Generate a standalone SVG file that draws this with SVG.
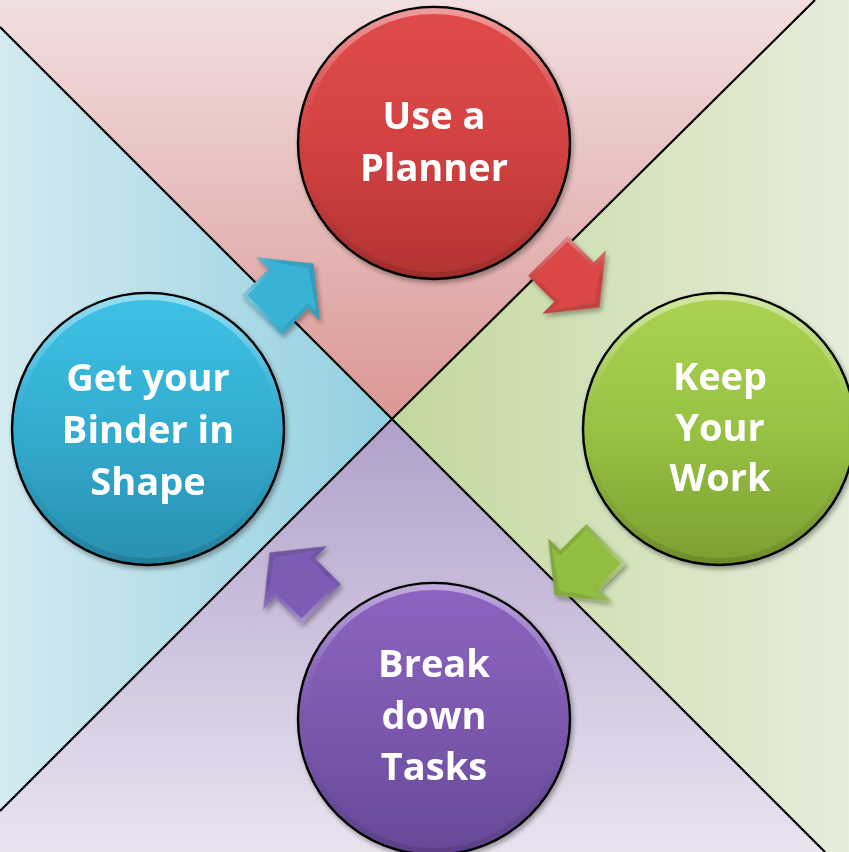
<svg xmlns="http://www.w3.org/2000/svg" width="849" height="852" viewBox="0 0 849 852">
  <defs>
    <style>
      .label { font-family: "Open Sans", "Lato", "Liberation Sans", sans-serif; font-weight: 700; font-size: 38px; fill: #ffffff; text-anchor: middle; }
      .divider { stroke: #000000; stroke-width: 2.2; fill: none; }
      .ring { stroke: #000000; stroke-width: 2.4; }
      .rim { fill: none; stroke: url(#rimGlow); stroke-width: 6; }
    </style>

    <!-- background quadrants -->
    <linearGradient id="bgTop" gradientUnits="userSpaceOnUse" x1="0" y1="0" x2="0" y2="419">
      <stop offset="0" stop-color="#f2dfdf"/>
      <stop offset="1" stop-color="#da9795"/>
    </linearGradient>
    <linearGradient id="bgLeft" gradientUnits="userSpaceOnUse" x1="0" y1="0" x2="392" y2="0">
      <stop offset="0" stop-color="#d3eaf0"/>
      <stop offset="1" stop-color="#92cfe0"/>
    </linearGradient>
    <linearGradient id="bgRight" gradientUnits="userSpaceOnUse" x1="849" y1="0" x2="392" y2="0">
      <stop offset="0" stop-color="#e6eddb"/>
      <stop offset="1" stop-color="#c3d79c"/>
    </linearGradient>
    <linearGradient id="bgBottom" gradientUnits="userSpaceOnUse" x1="0" y1="852" x2="0" y2="419">
      <stop offset="0" stop-color="#e9e4f0"/>
      <stop offset="1" stop-color="#b1a0ca"/>
    </linearGradient>

    <!-- circle fills -->
    <linearGradient id="fillRed" x1="0" y1="0" x2="0" y2="1">
      <stop offset="0" stop-color="#e04b49"/>
      <stop offset="0.5" stop-color="#d34242"/>
      <stop offset="1" stop-color="#b23331"/>
    </linearGradient>
    <linearGradient id="fillGreen" x1="0" y1="0" x2="0" y2="1">
      <stop offset="0" stop-color="#abd352"/>
      <stop offset="0.5" stop-color="#98c243"/>
      <stop offset="1" stop-color="#7b9f31"/>
    </linearGradient>
    <linearGradient id="fillBlue" x1="0" y1="0" x2="0" y2="1">
      <stop offset="0" stop-color="#3ec2e6"/>
      <stop offset="0.5" stop-color="#33acd0"/>
      <stop offset="1" stop-color="#288fae"/>
    </linearGradient>
    <linearGradient id="fillPurple" x1="0" y1="0" x2="0" y2="1">
      <stop offset="0" stop-color="#8d64c1"/>
      <stop offset="0.5" stop-color="#7c58ae"/>
      <stop offset="1" stop-color="#664998"/>
    </linearGradient>
    <linearGradient id="rimGlow" x1="0" y1="0" x2="0" y2="1">
      <stop offset="0" stop-color="#ffffff" stop-opacity="0.45"/>
      <stop offset="0.3" stop-color="#ffffff" stop-opacity="0.08"/>
      <stop offset="0.6" stop-color="#000000" stop-opacity="0"/>
      <stop offset="1" stop-color="#000000" stop-opacity="0.12"/>
    </linearGradient>

    <!-- arrow bevel shades -->
    <linearGradient id="bevelShade" x1="0" y1="0" x2="1" y2="1">
      <stop offset="0" stop-color="#ffffff" stop-opacity="0.5"/>
      <stop offset="0.5" stop-color="#ffffff" stop-opacity="0"/>
      <stop offset="1" stop-color="#000000" stop-opacity="0.3"/>
    </linearGradient>

    <filter id="softShadow" x="-20%" y="-20%" width="150%" height="150%">
      <feGaussianBlur in="SourceAlpha" stdDeviation="2.5"/>
      <feOffset dx="2" dy="3" result="blur"/>
      <feComponentTransfer><feFuncA type="linear" slope="0.35"/></feComponentTransfer>
      <feMerge><feMergeNode/><feMergeNode in="SourceGraphic"/></feMerge>
    </filter>

    <!-- block arrow pointing along +x, centred on the origin -->
    <path id="arrowOuter" d="M-37,-28 L0,-28 L0,-45 L36,0 L0,45 L0,28 L-37,28 Z"/>
    <path id="arrowInner" d="M-33,-24 L4,-24 L4,-36 L29,0 L4,36 L4,24 L-33,24 Z"/>
  </defs>

  <!-- background quadrants -->
  <g id="background">
    <polygon points="0,0 815,0 392,419 0,27" fill="url(#bgTop)"/>
    <polygon points="815,0 849,0 849,852 825,852 392,419" fill="url(#bgRight)"/>
    <polygon points="825,852 0,852 0,811 392,419" fill="url(#bgBottom)"/>
    <polygon points="0,27 392,419 0,811" fill="url(#bgLeft)"/>
    <path class="divider" d="M0,27 L392,419 L815,0 M0,811 L392,419 L825,852"/>
  </g>

  <!-- connectors: bevelled block arrows between the steps -->
  <g id="connectors" filter="url(#softShadow)">
    <g id="arrow-blue" transform="translate(288,289) rotate(-45)">
      <use href="#arrowOuter" fill="#2d9fc0"/>
      <use href="#arrowOuter" fill="url(#bevelShade)"/>
      <use href="#arrowInner" fill="#38b3d6"/>
    </g>
    <g id="arrow-red" transform="translate(574,282) rotate(45)">
      <use href="#arrowOuter" fill="#c53a38"/>
      <use href="#arrowOuter" fill="url(#bevelShade)"/>
      <use href="#arrowInner" fill="#da4645"/>
    </g>
    <g id="arrow-green" transform="translate(580,570) rotate(135)">
      <use href="#arrowOuter" fill="#80aa36"/>
      <use href="#arrowOuter" fill="url(#bevelShade)"/>
      <use href="#arrowInner" fill="#91bd40"/>
    </g>
    <g id="arrow-purple" transform="translate(295,578) rotate(-135)">
      <use href="#arrowOuter" fill="#6c4ea3"/>
      <use href="#arrowOuter" fill="url(#bevelShade)"/>
      <use href="#arrowInner" fill="#7d5cb6"/>
    </g>
  </g>

  <!-- step nodes -->
  <g id="node-planner" filter="url(#softShadow)">
    <circle cx="434" cy="143" r="136" fill="url(#fillRed)" class="ring"/>
    <circle cx="434" cy="143" r="132" class="rim"/>
    <text class="label" x="434" y="129">Use a</text>
    <text class="label" x="434" y="181">Planner</text>
  </g>

  <g id="node-work" filter="url(#softShadow)">
    <circle cx="719" cy="429" r="136" fill="url(#fillGreen)" class="ring"/>
    <circle cx="719" cy="429" r="132" class="rim"/>
    <text class="label" x="720" y="390">Keep</text>
    <text class="label" x="720" y="441">Your</text>
    <text class="label" x="720" y="491">Work</text>
  </g>

  <g id="node-tasks" filter="url(#softShadow)">
    <circle cx="434" cy="719" r="136" fill="url(#fillPurple)" class="ring"/>
    <circle cx="434" cy="719" r="132" class="rim"/>
    <text class="label" x="434" y="677">Break</text>
    <text class="label" x="434" y="729">down</text>
    <text class="label" x="434" y="780">Tasks</text>
  </g>

  <g id="node-binder" filter="url(#softShadow)">
    <circle cx="148" cy="429" r="136" fill="url(#fillBlue)" class="ring"/>
    <circle cx="148" cy="429" r="132" class="rim"/>
    <text class="label" x="148" y="391">Get your</text>
    <text class="label" x="148" y="443">Binder in</text>
    <text class="label" x="148" y="495">Shape</text>
  </g>
</svg>
